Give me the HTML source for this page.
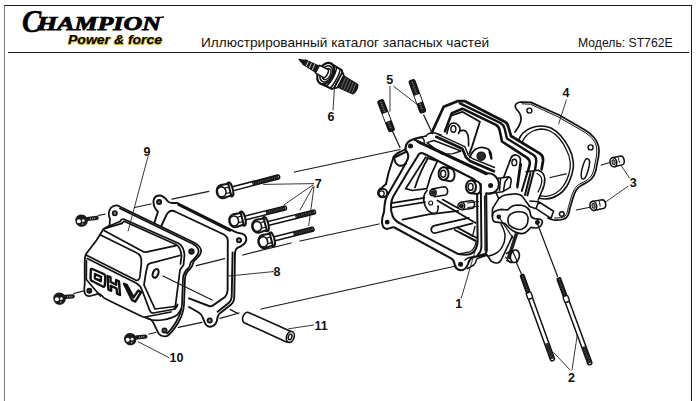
<!DOCTYPE html>
<html><head><meta charset="utf-8">
<style>
html,body{margin:0;padding:0;background:#fff;}
body{width:700px;height:401px;position:relative;overflow:hidden;font-family:"Liberation Sans",sans-serif;}
#frame{position:absolute;left:4px;top:5px;width:688px;height:420px;border:1px solid #1a1a1a;border-left-color:#777;box-sizing:border-box;}
#rule{position:absolute;left:7.5px;top:52px;width:681.3px;height:1px;background:#1a1a1a;}
.t{position:absolute;white-space:nowrap;color:#111;}
#title{left:201.3px;top:34.6px;font-size:13px;line-height:16px;transform-origin:0 0;transform:scaleX(1.048);}
#model{left:578.3px;top:34.8px;font-size:12.6px;line-height:16px;transform-origin:0 0;transform:scaleX(0.968);}
.ch{font-family:"Liberation Serif",serif;font-weight:bold;font-style:italic;color:#000;transform-origin:0 0;line-height:28px;-webkit-text-stroke:0.5px #000;}
#c1{left:22px;top:8px;font-size:31px;transform:scaleX(0.93);}
#c2{left:36.9px;top:10.4px;font-size:18.3px;transform:scaleX(1.418);-webkit-text-stroke:0.75px #000;}
#pf{left:68px;top:32.4px;transform:scaleX(1.12);font-weight:bold;font-style:italic;font-size:12.5px;line-height:16px;color:#000;text-shadow:0.6px 0.6px 0 #d8c020,-0.5px 0.5px 0 #d8c020,0.5px -0.5px 0 #d8c020;transform-origin:0 0;}
svg{position:absolute;left:0;top:0;}
</style></head><body>
<div id="frame"></div><div id="rule"></div>
<div class="t ch" id="c1">C</div><div class="t ch" id="c2">HAMPION</div>
<div style="position:absolute;left:162px;top:16.3px;width:2.2px;height:2.2px;border-radius:50%;background:#111"></div>
<div class="t" id="pf">Power &amp; force</div>
<div class="t" id="title">Иллюстрированный каталог запасных частей</div>
<div class="t" id="model">Модель: ST762E</div>
<svg id="d" width="700" height="401" viewBox="0 0 700 401" fill="none" stroke="#111" stroke-width="1.5" stroke-linecap="round" stroke-linejoin="round">
<defs>
<g id="lbh" stroke-width="2" stroke="#111" fill="#fff">
<ellipse cx="7" cy="0" rx="2.6" ry="7.3"/>
<path d="M6.5,-6 L-1,-6.6 C-4,-6.5 -6.8,-3.5 -6.8,0 C-6.8,3.8 -4.5,6.6 -1,6.8 L6.5,6 Z"/>
<ellipse cx="-1.8" cy="0.2" rx="4.3" ry="5" stroke-width="1.6"/>
<path d="M2.3,-2.6 L6,-2.8 M2.3,3 L6,3" stroke-width="1.2"/>
</g>
</defs>

<!-- COVER 9 -->
<g id="cover" stroke-width="1.75">
<!-- flange outer -->
<path d="M103.5,229 L109.5,225.5 L110,219 C107.3,213 109.5,207.5 114,205.8 C116,205.2 118,205.5 119,206.2 L194,242.5 C199,245 201.5,249 201,252 C200.5,255.5 197,258.5 194,261 C192.3,263 193.5,266 190,269 C186.5,272 185.5,274 185,278 L184,305 C183.5,312 181,318 178,323 C175,328 171,333 168,335.5 C166,337 161,336.5 159,334 C157,331 155,326 153,322 C151.5,319.5 149.5,318.7 148,318.5"/>
<path d="M120,208.5 L193,244 C197.5,246.5 199,249.5 198.5,252.5 C198,255.5 195,257.5 191,262 C189.5,264.5 190.5,266.5 188,268.5 C184.5,271.5 183.5,274 183,278 L182,305 C181.5,311 179,317 176,322 C173,327 170,331 167,333.5"/>
<!-- flange inner -->
<path d="M110,225.8 L120,221.5 C121,219.5 122.5,218.8 124,219.3 L178,243 C182,245 184,249 184.5,255 L183.5,265 L180,270 L175,309"/>
<path d="M121.9,223.3 L124,221.3 L176,244.5 C179.5,246.5 181,250 181.5,256 L180.5,264"/>
<!-- holes -->
<circle cx="114.8" cy="213.3" r="2.2" stroke-width="1.5" fill="#777"/>
<circle cx="191.5" cy="251.5" r="2.3" stroke-width="1.7" fill="#333"/>
<circle cx="164.5" cy="330.5" r="2.2" stroke-width="1.6" fill="#555"/>
<circle cx="89.3" cy="290.7" r="2.1" stroke-width="1.7" fill="#333"/>
<!-- top face -->
<path d="M103.5,229 L121.9,223.3 M104,230.5 L142,251 C144,252.3 145,252.3 147,251.9 L176,245.6"/>
<!-- bevel top edge + right rounded corner -->
<path d="M100.5,235 L136,252.5 C139.5,254 141,256 141.3,259 L141.3,264 L140,276 C139.6,279.5 138,281 136,280.3 L86,255"/>
<!-- left outer edge -->
<path d="M103.5,229 L96.7,240 L86,254 C85,256 84.7,258 84.7,261 L84.7,284 C84.3,289 83.5,292 85.5,294.5 C87,296.5 89,296.5 92,295.5 L99,293.6 C101,294 102,296 104,298 L115,303.5 L142,316.5 L148,318.5"/>
<!-- front face top edge w/ rounded corner and right edge -->
<path d="M87.3,258.5 L136,283 C139.5,285 141,287 142,290 L149.5,310 C150.5,312.5 151.5,313.2 153,313 L173,309.5 C176,308.5 177,307 177.5,304.5"/>
<path d="M86.4,260.5 L86.3,279.5 L100.4,296"/>
<!-- side face -->
<path d="M180,255.5 L150,263.4 C148,264 147.3,265.5 147.3,267 L146,272 L144,285 L155,309 L175,306.5"/>
<!-- bottom flange -->
<path d="M145,317 L171,312 M148,318.5 C152,320.5 157,320.8 162,320 C168,319 173,318 177,315 C179,313 180.5,311 181,309"/>
<!-- oval hole -->
<ellipse cx="155.6" cy="273.4" rx="2.7" ry="4.5" transform="rotate(22 155.6 273.4)" stroke-width="2.1"/>
<!-- OHV -->
<g stroke-width="2.4">
<path d="M92.3,269 L103.8,274 C105,274.6 105.3,275.5 105.3,276.5 L104.8,285.5 C104.7,286.7 103.8,287 102.8,286.5 L92,281 C91,280.5 90.6,279.7 90.6,278.7 L90.8,270 C90.8,269 91.4,268.6 92.3,269 Z"/>
<path d="M95,274 L101,276.8 L100.8,281.2 L94.9,278.4 Z"/>
<path d="M107.6,276 L110.5,277.3 L110.6,282 L116.2,284.7 L116.1,280 L119,281.3 L120,295 L117,293.6 L116.6,288.5 L110.9,285.8 L111.2,290.8 L108.3,289.4 Z"/>
<path d="M124,283.8 L127,285.2 L133.6,297.4 L138.2,290.6 L141.2,292 L135.2,301.6 L132,300 Z"/>
</g>
</g>

<!-- GASKET 8 -->
<g id="gasket" stroke-width="1.9">
<path d="M154.5,222.5 L157.9,211.7 C155,209 153.3,205 153.5,200.7 C154,197.5 156,195.8 159,195.5 C162.5,195.3 165,197.5 167.3,200.7 C168.5,202.3 170,203 172,203 L177.5,203 L231.7,230.2 C235,232 238,233.5 242,233.6 C245,234.5 246.6,237 246.2,240.5 C245.5,244 241,246.5 237,248.2 C235.3,249.5 234.9,252 234.9,255.4 L234.3,297 C234,301 233,303 231,304.5 L219.1,314 C217.5,316 217.5,318 216.8,321 C215.5,325 213,326.8 209.7,326.8 C206,326.6 204.3,323 203,318 C202,315 200.5,313.5 198.7,312.5 L189,307"/>
<path d="M178.3,204.8 L230,230.8 M232.6,252.5 L231.7,297 C231.5,300 230.5,301.5 228.6,303 L217.6,311.7"/>
<path d="M161.5,225.5 L166.5,214.9 C168,212 170,210.7 172,210.7 C173.5,210.7 175,211.4 176,212 L223.9,234.5 C226.5,236 227.8,238 227.8,241 L227.6,290 C227.5,294 226.5,295.5 225,297 L213,305.4 C211.5,306.4 210.5,306.5 209,306 L189,298.3"/>
<circle cx="159.1" cy="202.1" r="2.1" stroke-width="1.8" fill="#666"/>
<circle cx="239" cy="240.3" r="2.1" stroke-width="1.8" fill="#999"/>
<circle cx="209.7" cy="320.4" r="2.1" stroke-width="1.8" fill="#999"/>
</g>



<!-- HEAD GASKET 4 -->
<g id="hgasket" stroke-width="1.5">
<path d="M515,132 C517,129.5 519.5,126 520.8,121.5 C521.5,117.5 520.5,114 518.5,111.5 C516.5,109.5 514.8,108 515.3,105.5 C516,103.2 518.5,102.2 521,102 L531,102.4 L559,115 L585,130 C589,132.5 592,135 594,137.5 C596.5,140.5 597.8,143 598.5,146 C599.3,149.5 599.3,153 598.5,157 C597.5,162 596.5,166 596,170 C595,174 593.5,177 591,179.5 C588.5,182 585,183.5 582,185 C579.5,186.3 577.5,188 576,190.5 C574.5,193 573.7,195.5 573,198 L570,208 C569.5,211 569,213.5 568,215.3 C567,217.5 565,218.7 563,219.2 C560,220 557,220.2 554,220 C551.5,219.7 549.5,219 548,218" stroke-width="1.7"/>
<path d="M522,103.8 L530.5,104.2 L558,116.8 L584,131.8 C590,135.5 594.5,140 596,145 C597,149 597,153 596.3,157 L594,169 C593,173 591.5,176 589.5,178 C587,180.5 584,182 581,183.3 C578,184.8 576,186.5 574.3,189.5 C573,192 572,194.5 571.3,197 L568.3,207.5 C567.8,211 567,214 565,216 C563,217.5 559,218.3 554.5,218" stroke-width="1"/>
<circle cx="529.4" cy="110.6" r="2.5" stroke-width="1.4"/>
<circle cx="590.6" cy="147.4" r="2.5" stroke-width="1.4"/>
<circle cx="561.8" cy="214" r="2.3" stroke-width="1.5"/>
<!-- bore -->
<path d="M519,139.5 C520,136.5 521.5,134.5 523,133 C525.5,130.5 528,129 531,128 C534.5,126.6 538,126 541,126 C544.5,126 548,126.8 551,128 C555,130 558,132.5 561,136 C564.5,140 567,144 569,148 C571.5,152.5 572.8,156.5 573.3,162 C573.8,166.5 573.5,170 572,174 C570.5,178.5 569.5,182 567,186 C564.5,190 561.5,193 558,195 C554.5,197.3 550,198.8 546,199 C543.5,199 541,198.7 539,198" stroke-width="1.6"/>
<path d="M522,142.5 C523,140 524.5,137.5 526,136 C528,134 530.5,132.2 533,131 C535.5,129.8 538.5,129.2 541,129 C544,129 547,129.5 550,131 C553.5,132.7 556.5,135 559,138 C562,141.5 564.5,145 566,149 C568.5,153.5 569.8,157.5 570.2,162 C570.5,166 570.2,170 569,174 C567.8,178 566.5,181.5 564,185 C562,188.3 559.5,191 556,193 C553,194.8 549.5,196 546,196.4 C543.8,196.4 542,196.2 540,195.6" stroke-width="1.3"/>
<!-- slot -->
<path d="M585,160.5 C585.6,159 586.8,158.5 588,158.9 C589.3,159.5 589.8,161 589.6,163 C589.2,166.5 588.5,169.5 587.5,172.5 C586.7,175 585.8,177.2 584.5,178.5 C583.5,179.3 582.3,179.2 581.7,178.2 C581,176.8 581,175 581.3,173 C581.8,169.5 582.6,166.5 583.5,164 C584,162.5 584.5,161.5 585,160.5 Z" stroke-width="1.5"/>
<!-- tab -->
<path d="M530,201 L538.6,201.8 L553.6,211.2 L551,218.3 L536,208.7 L529.5,206.5 M538.6,201.8 L536,208.7" stroke-width="1.6"/>
</g>
<!-- HEAD 1 -->
<g id="head" stroke-width="2.05">
<!-- frame outer -->
<path id="fr_out" d="M414.5,139.8 L487,173.3 C491,173 495,175 497.5,179 C499.5,183 499,188 496,191 C493.5,193.3 489.5,194 486.2,193.2 L486.8,250 C486.5,253.5 485,255 482,255.6 L474,257 C470.5,258 469,260.5 468,264 C466.5,268.5 464,270.3 460.5,270.2 C457,269.8 454.8,267 454.3,263 C454,260.5 453,259.4 451,258.3 L394.5,227.5 C392,226.7 390,228.5 387,229 C384,228.8 382.2,226 382,222 C381.8,218 383,215 384,212 L384.6,205 C385,201 385.6,198.5 387,196 L402,170 L407.5,159.5 C408.8,157 408.3,155 407.5,153 L405.5,149.5 C405.3,146 406.5,143.5 408.5,141.8 C411,139.6 414.5,138.6 417.5,138 L422,137"/>
<!-- frame inner -->
<path id="fr_in" d="M417.5,156.5 C418.3,154.5 419.5,153.2 421,153 C422.3,152.9 423.3,153.4 424.5,154 L473.5,179 C476,180.3 477,182.5 477,185.5 L477.6,240 C477.6,245 476.5,249 473.5,252 C471.5,254 469,254.8 466,254.8 L460,254.3 C458,254 456.5,253.2 455,252.3 L401.5,224.2 C398,222.5 394.5,220.5 392.8,216.5 C391.3,213 390.5,210 391,205 C391.3,201.5 392,198.5 393.5,196 L409,170 Z"/>
<circle cx="410.5" cy="146" r="1.9" fill="#111" stroke-width="1.2"/>
<circle cx="490.6" cy="185.6" r="1.9" fill="#111" stroke-width="1.2"/>
<circle cx="460.6" cy="264.3" r="1.9" fill="#111" stroke-width="1.2"/>
<circle cx="387.2" cy="222.2" r="1.8" fill="#111" stroke-width="1.2"/>
</g>

<!-- head interior -->
<g id="hint" stroke-width="1.75">
<!-- inner wall face -->
<path d="M425.6,157.5 L405.6,188.7 L412.5,190.5 L426.8,188.7 M425.6,157.5 L437.4,161.2 L431,175 L426.8,188.7 M428,158.2 C422,168 418,178 415,187.4"/>
<!-- floor lines -->
<path d="M391.5,203.2 L424.3,197.9 M392,207.5 L425,202.2 M402.5,219.7 L428.6,214.4 L458.3,210.9"/>
<!-- disc -->
<path d="M427,190.5 C423.5,194 423,200 425,205.5 C427,210.5 431,213.5 435,213.5 C437.5,212.5 438.5,209 438,206"/>
<circle cx="430.7" cy="203" r="2" stroke-width="1.1"/>
<!-- floor right-down lines -->
<path d="M437.4,200.5 L475.7,223 M442.6,199.6 L458.3,208.3 M454.8,230 L475.7,240.6 M457,227.5 L477,238"/>
<!-- slot tab -->
<path d="M468.8,217.9 L434.5,225.6 C431.5,226.6 430.8,229 431.5,231 C432.3,233 434,233.3 435.5,233 L472.3,223.4"/>
<!-- spring boss 1 -->
<path d="M443.6,167.3 L450,168.2 C455.5,169.5 456.5,179.5 450.5,181.3 L443.6,180.1" fill="#fff" stroke-width="1.9"/>
<ellipse cx="443.6" cy="173.7" rx="5" ry="6.4" fill="#fff" stroke-width="2"/>
<ellipse cx="443.2" cy="173.8" rx="2.5" ry="3.5" stroke-width="1.4"/>
<!-- spring boss 2 -->
<path d="M471,180.4 L477,181.3 C481.5,182.5 482,192.5 477.5,194 L471,193.2" fill="#fff" stroke-width="1.9"/>
<ellipse cx="471" cy="186.8" rx="5" ry="6.4" fill="#fff" stroke-width="2"/>
<ellipse cx="470.6" cy="186.9" rx="2.5" ry="3.5" stroke-width="1.4"/>
<!-- small boss 1 -->
<path d="M432,189 L444,186.8 C448,187 449,193.5 445.5,195 L434.5,196.8" fill="#fff" stroke-width="1.5"/>
<circle cx="433" cy="192.6" r="3.2" fill="#fff" stroke-width="1.5"/>
<circle cx="433" cy="192.6" r="1.8" fill="#222" stroke-width="1"/>
<!-- small boss 2 -->
<path d="M461,202.2 L472,200.5 C475,201 475.5,207 472.5,208.3 L462,209.8" fill="#fff" stroke-width="1.5"/>
<circle cx="461.3" cy="206" r="3.4" fill="#fff" stroke-width="1.5"/>
<circle cx="461.3" cy="206" r="1.9" fill="#222" stroke-width="1"/>
<path d="M467.5,203 L478.5,201.5 M467.8,207.5 L478.5,206.3" stroke-width="1.1"/>
</g>

<!-- head body / fins -->
<g id="hbody" stroke-width="1.95">
<!-- right bar mid line -->
<path d="M480.8,184 L481.4,244 C481.6,249 481,252.5 478,254.5"/>
<path d="M484.6,196 L485.2,251" stroke-width="1.4"/>
<!-- intake boss -->
<path d="M393.5,157.3 L388.5,173 L386,184" />
<path d="M393.5,157.3 C395,154.5 397,153.2 400,152 L405.3,149.3 M395.5,157 L406.5,151.6 M394.3,158 C394.5,161 396,164 398.5,165.3 C401,166.3 404,165.5 406,163.5"/>
<ellipse cx="382.6" cy="193" rx="4.6" ry="4.3" fill="#fff"/>
<ellipse cx="381.6" cy="193.6" rx="2.6" ry="2.7" stroke-width="1.3"/>
<path d="M386,184 L378.8,190.2"/>
<!-- rim top surface -->
<path d="M422,137 L426,136 M419.5,138 C421,137 423.5,138 424.2,140.5 C424.6,142.5 424,143.8 423,144.5" stroke-width="1.4"/>
<path d="M427,142.6 L434,140.5 L461,151 L453,153.6 L442.5,154.4 Z" stroke-width="1.4"/>
<path d="M426,136 C428,133.5 431.5,132.5 435,133 L441,135 M431.9,132.4 L433,129.5" stroke-width="1.5"/>
<path d="M436.2,136.8 L462.4,148.7 L466,157.4 L470,161 L494,171.3" stroke-width="2.6"/>
<path d="M438.5,134.6 L464.8,146.6 L468.3,155.3 L472,158.3 L494.5,167.5" stroke-width="1.4"/>
<path d="M418,141.8 L486.5,174" stroke-width="2.6"/>
<!-- fin outline 1 -->
<path d="M431.9,132.4 L443.7,106.8 L458,101 L464.9,101.2 L504.8,121.8 C507,123 508,125 508.5,127.4 L511,136 L540,153.7 C542.5,155.5 543.3,158 543,161 L541.5,169.5" stroke-width="2.7"/>
<path d="M460,103.3 L500.5,123 C503,124.5 504,126 504.6,128.5 L507,138.5 L533.5,155 C535.7,156.5 536.5,159 536.2,162 L535,170" stroke-width="2.4"/>
<!-- fin 2 -->
<path d="M445,131.2 L451.8,113.1 L462.4,108.7 L496,124.9 C498.5,126.3 499.3,128 499.8,131 L502,141.5 L526.5,157.4 C529,159 530,161.5 529.8,164 L528,171.2" stroke-width="2.6"/>
<!-- recess -->
<path d="M451.8,115.3 L462.4,111.8 L479.9,121.8 L472.4,145.5 L469.4,153.7" stroke-width="1.9"/>
<!-- boss with hole (left) -->
<path d="M446.8,133.7 L448.7,126.8 C450,124 451.5,123 453.5,123 C456,123 458,124.5 459.3,126.5 C460.6,128.5 460,131 458.5,133.5" stroke-width="1.6"/>
<path d="M460,131.2 C462,129.8 465,130.2 466.5,132 C468,134 468.4,136.5 468.5,139 L468.6,146" stroke-width="1.6"/>
<ellipse cx="453.4" cy="128.9" rx="2.5" ry="3.3" stroke-width="1.4"/>
<!-- spark plug hole -->
<circle cx="481.2" cy="156.2" r="4.2" fill="#2a2a2a" stroke="#111" stroke-width="1.2"/>
<path d="M470,157.4 C471,153.5 473,151 476,149 C479.5,147 484,147 488,149 C490.5,151 491.8,154 491.3,158.7" stroke-width="1.7"/>
<path d="M489.5,152 L491.5,158.5" stroke-width="2.2"/>
<!-- boss right -->
<path d="M503.7,177.4 L511,158 C512,155.8 514,154.8 516,155 C518.5,155.5 520.3,157.5 520.5,160 L517,186" stroke-width="1.7"/>
<ellipse cx="514.3" cy="162.4" rx="2.4" ry="3.2" stroke-width="1.4"/>
<!-- fin end faces -->
<path d="M526,171.8 L538.6,170.2" stroke-width="1.6"/>
<path d="M521,164 L517.4,187.4" stroke-width="2.2"/>
<path d="M527.4,172.4 L521.8,191 M530.5,173 L525,195 M533.6,171.8 L527.4,195.5" stroke-width="2"/>
<!-- arch loop -->
<path d="M538.6,170.4 C542,171.5 544.3,174 544.8,178.5 C545,183 543.5,188 541.7,191.5 L538.2,200" stroke-width="1.6"/>
<path d="M537,173.5 C540,175 541.8,177 541.8,180 C541.8,184 540,188.5 538,192" stroke-width="1.3"/>
<!-- small block between lug and boss -->
<path d="M497,178.5 L500.6,178 L508.7,176.8 C510.5,177.5 511.3,179 511.2,181 L510,187.4 L502.4,191.8 L497.5,192.5 M500.6,178 L499.5,190.5 M508.7,176.8 L505,182 L503.5,190.5" stroke-width="1.5"/>
<!-- body top behind flange -->
<path d="M489,193.6 L496,192.5 L498.7,198.7 L492.5,208.7 L492.3,216 M498.7,198.7 C501,196.5 503,195.5 505,195 L516,193.7 C519,194.2 521,195 522.4,196.4 L529.3,206" stroke-width="1.6"/>
<!-- port flange -->
<path d="M492.5,216.2 C492.5,213.5 493.5,211.8 495.5,211 C497.5,210 499.5,209.5 501.2,209.3 L507.4,210 C509,208.8 510,207.5 511.2,206.8 C513,205.6 515,205.1 517.4,205 C520,205 523,205.4 524.9,206.2 C527,207.3 528.5,208.5 529.3,210 C530.3,212 530.3,214.5 531,216.2 C532,217.8 533.3,218.4 534.9,218.7 L540.5,219.3 C542,220 542.6,221 542.3,222.6 C542,224.5 541.5,225.3 540.5,226.2 C539,227.5 537.5,228 536,228 L531,227.4 C529.5,228.5 528.5,230 527.4,231 C526,232.5 524.3,233.3 522.4,233.6 C520,233.7 518,233.3 516,232.4 C513.5,231.3 511.5,230 510,228.6 L505,223.7 L498.7,222.4 C496.5,222.3 495,222 493.7,221.2 C492.6,220 492.3,218.5 492.5,216.2 Z" fill="#fff" stroke-width="1.7"/>
<path d="M508,218.7 C508.3,216.5 509,215.2 510.5,214.3 C512.5,212.8 515,212 517.4,211.8 C520,211.6 523,212 525,213 C527,214.2 527.8,215.5 528,217.4 C528.2,220 528,222.5 526.8,225 C525.5,227.3 524,228.5 521.8,229.3 C519.5,229.8 517.3,229.5 515,228.6 C512.6,227.6 510.8,226.5 509.3,225 C508,223 507.8,221 508,218.7 Z" stroke-width="1.6"/>
<circle cx="498.8" cy="216.8" r="1.8" fill="#111" stroke-width="1.1"/>
<circle cx="537.4" cy="222.5" r="1.9" fill="#111" stroke-width="1.1"/>
<!-- body lower right -->
<path d="M486.8,254.5 L491.2,261.2 C493,262.7 495,263.2 497.4,263 C499.5,262.5 500.5,261.2 501.2,260 L512.4,236.2" stroke-width="1.6"/>
<path d="M516.6,233.2 L508.3,258.8" stroke="#222" stroke-width="3.6" stroke-linecap="butt"/>
<path d="M506.3,253.6 L511.3,250.6 M506.8,260.6 L511.8,262.6" stroke-width="1.5"/>
<path d="M501.2,224.5 C503.5,229 505.3,232 505,236 C504.8,240 504.5,242 503.6,243.7 C502,247.5 500,250.5 497.4,252.4 C494.5,254.5 491,255.8 487.4,256.2" stroke-width="1.5"/>
<path d="M465,260 C466.5,258.5 468,257.7 469.4,257.4 L476.2,256.2 L485,253.7 M467.5,268.6 L473.7,265 C475.5,263.5 476,262 476.2,260 C476.8,258.8 477.8,258.2 478.7,258 L486.2,255.5" stroke-width="1.5"/>
<ellipse cx="514.9" cy="256.3" rx="4.4" ry="6.3" fill="#fff" stroke-width="1.6" transform="rotate(12 514.9 256.3)"/>
<path d="M505.5,257.2 L510.3,262.6 M512.3,250.5 L517.5,262" stroke-width="1.2"/>
<!-- interior lower-right triangle lines -->
<path d="M460,228.7 L472.5,236.2 L475,226.5 M460,232.6 L475,241 M460,253.6 L470,251.8 C473,250 475.5,246.5 476.2,241.5" stroke-width="1.3"/>
</g>
<!-- LABELS -->
<g id="labels" stroke="none" fill="#111" font-family="Liberation Sans, sans-serif" font-weight="bold" font-size="12.5">
<text x="143.5" y="155.6">9</text><text x="169.6" y="362.1">10</text><text x="273.6" y="275.6">8</text><text x="314.6" y="330.1">11</text><text x="314.8" y="187.6">7</text><text x="327.4" y="120.8">6</text><text x="386.2" y="84.3">5</text><text x="562.4" y="96.8">4</text><text x="629.8" y="186.8">3</text><text x="455.3" y="308">1</text><text x="568" y="382">2</text>
</g>
<!-- LEADERS -->
<g id="leaders" stroke-width="0.9" stroke="#222">
<path d="M148,156.5 L128.1,231"/>
<path d="M138.2,341.8 L168.7,357.5"/>
<path d="M273.5,271.6 L228.6,276"/>
<path d="M313.7,325 L288.7,328.8"/>
<path d="M313.7,183.6 L263.5,184.4 M313,185 L283.7,205 M313.5,186 L300,210 M314,187 L308.7,225.5"/>
<path d="M333,110 L334.5,87.5"/>
<path d="M390,86.3 L390,111.3 M393.7,86.3 L416.3,103.8"/>
<path d="M566.3,100 L558.7,123.8"/>
<path d="M629.5,178 L620,163.8 M628,186.3 L605,202.5"/>
<path d="M461.3,298 L475,251.3"/>
<path d="M570,370 L553.7,352.5 M572,370 L578,330"/>
</g>
<!-- AXIS -->
<g id="axis" stroke-width="1.25" stroke="#1a1a1a">
<path d="M134.5,207.5 L151,204 M172,199.1 L208.9,191.3 M294.5,172 L400,149.5"/>
<path d="M196.4,265.6 L224.6,258.6 M242.7,255 L291,243 M300,241 L379,224"/>
<path d="M178.3,327.4 L201.9,322.4 M220,318.3 L239,313 M261,309 L456,266"/>
<path d="M163,276 L212.1,300 M230.1,309.4 L238,313.6"/>
<path d="M98.3,215.5 L105,214.2 M73.8,293.5 L83.9,290.9 M149,334 L155.8,332.5"/>
<path d="M392.5,131.3 L400,147.5 M423.7,115 L432.5,133.8"/>
<path d="M601.3,165 L610,162.5 M576.3,210 L591.3,207 M550,177.5 L566.3,173.8"/>
<path d="M537,222.5 L557.5,276.3 M499.6,218 L514,239.5 M516.3,262.5 L521.3,273.8"/>
</g>
<!-- SMALL BOLTS -->
<g id="sbolts"><g>
<ellipse cx="81.5" cy="220.6" rx="6.4" ry="6.1" fill="#1a1a1a" stroke="none" transform="rotate(25 81.5 220.6)"/>
<path d="M87.5,219.0 L96.6,217.9" stroke="#1a1a1a" stroke-width="4.2" stroke-linecap="round"/>
<path d="M90.0,219.0 L96.1,217.9" stroke="#aaa" stroke-width="1.5" stroke-dasharray="0.9 1.2" stroke-linecap="butt"/>
<circle cx="78.9" cy="221.29999999999998" r="2" fill="#fff" stroke="none"/>
<circle cx="83.3" cy="220.7" r="1.4" fill="#f4f4f4" stroke="none"/>
<circle cx="82.7" cy="224.0" r="0.8" fill="#bbb" stroke="none"/>
</g><g>
<ellipse cx="59.5" cy="298.6" rx="6.4" ry="6.1" fill="#1a1a1a" stroke="none" transform="rotate(25 59.5 298.6)"/>
<path d="M64.8,296.8 L72.8,296.4" stroke="#1a1a1a" stroke-width="4.2" stroke-linecap="round"/>
<path d="M67.3,296.8 L72.3,296.4" stroke="#aaa" stroke-width="1.5" stroke-dasharray="0.9 1.2" stroke-linecap="butt"/>
<circle cx="56.9" cy="299.3" r="2" fill="#fff" stroke="none"/>
<circle cx="61.3" cy="298.70000000000005" r="1.4" fill="#f4f4f4" stroke="none"/>
<circle cx="60.7" cy="302.0" r="0.8" fill="#bbb" stroke="none"/>
</g><g>
<ellipse cx="130.3" cy="339.1" rx="6.4" ry="6.1" fill="#1a1a1a" stroke="none" transform="rotate(25 130.3 339.1)"/>
<path d="M136.7,337.3 L145.4,336.6" stroke="#1a1a1a" stroke-width="4.2" stroke-linecap="round"/>
<path d="M139.2,337.3 L144.9,336.6" stroke="#aaa" stroke-width="1.5" stroke-dasharray="0.9 1.2" stroke-linecap="butt"/>
<circle cx="127.70000000000002" cy="339.8" r="2" fill="#fff" stroke="none"/>
<circle cx="132.10000000000002" cy="339.20000000000005" r="1.4" fill="#f4f4f4" stroke="none"/>
<circle cx="131.5" cy="342.5" r="0.8" fill="#bbb" stroke="none"/>
</g></g>
<!-- LONG BOLTS 7 -->
<g id="lbolts"><g transform="translate(223.4 191.2) rotate(-14.61)">
<path d="M8,-2 L56.4,-2 C58.6,-2 58.6,2 56.4,2 L8,2" fill="#fff" stroke-width="1.5"/>
<path d="M29.9,0 L56.9,0" stroke="#1a1a1a" stroke-width="3.6" stroke-linecap="butt"/>
<path d="M30.9,0 L56.9,0" stroke="#888" stroke-width="1" stroke-dasharray="0.7 1.7" stroke-linecap="butt"/>
<use href="#lbh"/>
</g><g transform="translate(235.9 220.3) rotate(-14.06)">
<path d="M8,-2 L50.4,-2 C52.6,-2 52.6,2 50.4,2 L8,2" fill="#fff" stroke-width="1.5"/>
<path d="M30.9,0 L50.9,0" stroke="#1a1a1a" stroke-width="3.6" stroke-linecap="butt"/>
<path d="M31.9,0 L50.9,0" stroke="#888" stroke-width="1" stroke-dasharray="0.7 1.7" stroke-linecap="butt"/>
<use href="#lbh"/>
</g><g transform="translate(265 241.2) rotate(-14.15)">
<path d="M8,-2 L48.8,-2 C51.0,-2 51.0,2 48.8,2 L8,2" fill="#fff" stroke-width="1.5"/>
<path d="M29.3,0 L49.3,0" stroke="#1a1a1a" stroke-width="3.6" stroke-linecap="butt"/>
<path d="M30.3,0 L49.3,0" stroke="#888" stroke-width="1" stroke-dasharray="0.7 1.7" stroke-linecap="butt"/>
<use href="#lbh"/>
</g><g transform="translate(258.9 225.8) rotate(-14.04)">
<path d="M8,-2 L56.6,-2 C58.8,-2 58.8,2 56.6,2 L8,2" fill="#fff" stroke-width="1.5"/>
<path d="M37.6,0 L57.1,0" stroke="#1a1a1a" stroke-width="3.6" stroke-linecap="butt"/>
<path d="M38.6,0 L57.1,0" stroke="#888" stroke-width="1" stroke-dasharray="0.7 1.7" stroke-linecap="butt"/>
<use href="#lbh"/>
</g></g>

<!-- PIN 11 -->
<g id="pin" stroke-width="1.6">
<path d="M248.5,312.5 L290.5,331.3 M287,342.3 L244.2,322.7 C242,321 242.2,317.5 243.5,315.5 C244.8,313 246.8,311.9 248.5,312.5" fill="none"/>
<ellipse cx="290.3" cy="336.9" rx="3.8" ry="5.6" transform="rotate(18 290.3 336.9)" fill="#fff" stroke-width="1.6"/>
<ellipse cx="290.1" cy="336.9" rx="1.7" ry="2.9" transform="rotate(18 290.1 336.9)" stroke-width="1.5"/>
</g>

<!-- SPARK PLUG 6 -->
<g id="plug" transform="translate(299.2 59.5) rotate(27.9)" stroke-width="1.3">
<path d="M30,-11.3 L42.5,-10.6 L44.2,-8.8 L44.2,9 L42.5,10.8 L30,11.3 Z" fill="#fff" stroke-width="2"/>
<path d="M36.5,-10.9 C39,-6 39,6 36.5,10.9 M40.8,-10.6 C42.6,-6 42.6,6 40.8,10.6" stroke-width="1.5"/>
<ellipse cx="30" cy="0" rx="7.6" ry="11.3" fill="#fff" stroke-width="2.1"/>
<ellipse cx="30.6" cy="0" rx="5.6" ry="8.6" fill="#fff" stroke-width="1.5"/>
<ellipse cx="31" cy="0" rx="3.8" ry="6" fill="#fff" stroke-width="1.4"/>
<path d="M20.5,-4.3 L30.5,-4.7 C32.3,-3 32.3,3 30.5,4.7 L20.5,4.3 Z" fill="#fff" stroke="#111" stroke-width="1.5"/>
<path d="M0,0 L6,-2 L6,2.2 Z" fill="#111" stroke="#111"/>
<path d="M5.5,-2.4 L20.5,-3.5 L20.5,3.5 L5.5,2.4 Z" fill="#1c1c1c" stroke="#111"/>
<path d="M9,-2.2 L9.3,2.2 M12.5,-2.5 L12.8,2.5 M16,-2.8 L16.3,2.8" stroke="#ccc" stroke-width="0.9"/>
<path d="M44.2,-8.6 C46,-8.6 46.6,-7 47,-6.3 L47,6.3 C46.6,7.5 46,8.6 44.2,8.6 Z" fill="#fff" stroke-width="1.7"/>
<path d="M47,-6.3 L63.5,-5.3 C65.3,-3 65.3,3 63.5,5.3 L47,6.3 Z" fill="#1c1c1c" stroke="#111"/>
<path d="M49.5,-5.5 L50.5,5.5 M52.5,-5.4 L53.5,5.4 M55.5,-5.2 L56.5,5.2 M58.5,-5 L59.5,5 M61.3,-4.8 L62.2,4.8" stroke="#777" stroke-width="0.7"/>
</g>
<!-- STUDS 5 -->
<g id="studs"><g transform="translate(380.2 100.4) rotate(69.01)">
<rect x="0" y="-2.9" width="32.7" height="5.8" rx="1.5" fill="#1c1c1c" stroke="#111" stroke-width="1.4"/>
<rect x="13.5" y="-2.7" width="8.8" height="5.4" fill="#fff" stroke="none"/>
<path d="M2,0 L12.0,0 M23.8,0 L30.7,0" stroke="#999" stroke-width="1.6" stroke-dasharray="0.8 1.5" stroke-linecap="butt"/>
</g><g transform="translate(411.6 80.3) rotate(70.07)">
<rect x="0" y="-2.9" width="34.0" height="5.8" rx="1.5" fill="#1c1c1c" stroke="#111" stroke-width="1.4"/>
<rect x="15.5" y="-2.7" width="8.100000000000001" height="5.4" fill="#fff" stroke="none"/>
<path d="M2,0 L14.0,0 M25.1,0 L32.0,0" stroke="#999" stroke-width="1.6" stroke-dasharray="0.8 1.5" stroke-linecap="butt"/>
</g></g>
<!-- DOWELS 3 -->
<g id="dowels"><g transform="translate(613.4 162.2) rotate(-12.71)" stroke-width="1.5">
<path d="M0,-4.6 L8.5,-4.4 C11.8,-3.5 11.8,3.5 8.5,4.4 L0,4.6" fill="#fff"/>
<ellipse cx="0" cy="0" rx="3.3" ry="4.6" fill="#fff" stroke-width="1.6"/>
<ellipse cx="0.2" cy="0" rx="1.5" ry="2.5" fill="#999" stroke="#222" stroke-width="1"/>
<path d="M5.8,-3.2 L5.8,1.5" stroke-width="0.9"/>
</g><g transform="translate(593.3 205.9) rotate(-10.94)" stroke-width="1.5">
<path d="M0,-4.6 L10.1,-4.4 C13.4,-3.5 13.4,3.5 10.1,4.4 L0,4.6" fill="#fff"/>
<ellipse cx="0" cy="0" rx="3.3" ry="4.6" fill="#fff" stroke-width="1.6"/>
<ellipse cx="0.2" cy="0" rx="1.5" ry="2.5" fill="#999" stroke="#222" stroke-width="1"/>
<path d="M6.7,-3.2 L6.7,1.5" stroke-width="0.9"/>
</g></g>
<!-- LONG STUDS 2 -->
<g id="lstuds"><g transform="translate(521.8 274.6) rotate(70.08)">
<path d="M25.5,-2.1 L89.8,-2.1 C92.1,-2 92.1,2 89.8,2.1 L25.5,2.1 Z" fill="#fff" stroke-width="1.5"/>
<rect x="19" y="-2.5" width="6.5" height="5" rx="1" fill="#fff" stroke-width="1.4"/>
<rect x="0" y="-1.9" width="19" height="3.8" rx="1.4" fill="#1c1c1c" stroke="#111" stroke-width="1.3"/>
<path d="M1.5,0 L18,0" stroke="#888" stroke-width="1" stroke-dasharray="0.7 1.6" stroke-linecap="butt"/>
<path d="M73,0 L89.7,0" stroke="#1c1c1c" stroke-width="3.4" stroke-linecap="butt"/>
<path d="M74,0 L89.3,0" stroke="#888" stroke-width="1" stroke-dasharray="0.7 1.6" stroke-linecap="butt"/>
</g><g transform="translate(558.5 278) rotate(69.77)">
<path d="M25.5,-2.1 L90.5,-2.1 C92.8,-2 92.8,2 90.5,2.1 L25.5,2.1 Z" fill="#fff" stroke-width="1.5"/>
<rect x="19" y="-2.5" width="6.5" height="5" rx="1" fill="#fff" stroke-width="1.4"/>
<rect x="0" y="-1.9" width="19" height="3.8" rx="1.4" fill="#1c1c1c" stroke="#111" stroke-width="1.3"/>
<path d="M1.5,0 L18,0" stroke="#888" stroke-width="1" stroke-dasharray="0.7 1.6" stroke-linecap="butt"/>
<path d="M73,0 L90.4,0" stroke="#1c1c1c" stroke-width="3.4" stroke-linecap="butt"/>
<path d="M74,0 L90.0,0" stroke="#888" stroke-width="1" stroke-dasharray="0.7 1.6" stroke-linecap="butt"/>
</g></g>
</svg>
</body></html>
